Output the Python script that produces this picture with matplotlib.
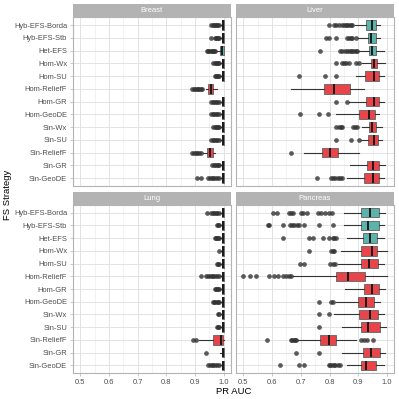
import matplotlib
matplotlib.use("Agg")
import matplotlib.pyplot as plt

plt.rcParams['font.family'] = ['Liberation Sans', 'DejaVu Sans']

# estrategias de seleccion (de arriba hacia abajo)
estrategias = ['Hyb-EFS-Borda', 'Hyb-EFS-Stb', 'Het-EFS', 'Hom-Wx', 'Hom-SU',
               'Hom-ReliefF', 'Hom-GR', 'Hom-GeoDE', 'Sin-Wx', 'Sin-SU',
               'Sin-ReliefF', 'Sin-GR', 'Sin-GeoDE']
ensemble = [True, True, True, False, False, False, False, False, False, False,
            False, False, False]

# ---- Breast ----
breast_lo  = [0.985, 0.987, 0.975, 0.987, 0.987, 0.938, 0.987, 0.987, 0.987, 0.987, 0.928, 0.987, 0.987]
breast_q1  = [0.992, 0.992, 0.987, 0.992, 0.992, 0.946, 0.992, 0.992, 0.992, 0.992, 0.943, 0.992, 0.992]
breast_med = [0.996, 0.996, 0.994, 0.996, 0.996, 0.954, 0.996, 0.996, 0.996, 0.996, 0.951, 0.996, 0.996]
breast_q3  = [0.999, 0.999, 1.000, 0.999, 0.999, 0.963, 0.999, 0.999, 0.999, 0.999, 0.961, 0.999, 0.999]
breast_hi  = [1.000, 1.000, 1.000, 1.000, 1.000, 0.975, 1.000, 1.000, 1.000, 1.000, 0.969, 1.000, 1.000]
breast_out = [
    [0.955, 0.962, 0.966, 0.970, 0.975, 0.978, 0.982],
    [0.954, 0.969, 0.973, 0.977, 0.980, 0.984],
    [0.940, 0.945, 0.950, 0.955, 0.958, 0.962, 0.966, 0.969],
    [0.963, 0.968, 0.972, 0.976, 0.980, 0.984],
    [0.969, 0.973, 0.977, 0.981, 0.984],
    [0.888, 0.895, 0.900, 0.905, 0.910, 0.915, 0.920, 0.925],
    [0.957, 0.962, 0.967, 0.972, 0.977, 0.982],
    [0.957, 0.962, 0.967, 0.972, 0.977, 0.982],
    [0.963, 0.968, 0.972, 0.976, 0.980, 0.984],
    [0.957, 0.962, 0.967, 0.972, 0.977, 0.982],
    [0.888, 0.895, 0.902, 0.908, 0.914, 0.920],
    [0.960, 0.965, 0.970, 0.975, 0.980, 0.984],
    [0.905, 0.922, 0.946, 0.952, 0.958, 0.964, 0.970, 0.976, 0.982],
]

# ---- Liver ----
liver_lo  = [0.888, 0.900, 0.902, 0.914, 0.893, 0.667, 0.868, 0.824, 0.914, 0.911, 0.710, 0.870, 0.862]
liver_q1  = [0.927, 0.934, 0.937, 0.944, 0.923, 0.782, 0.927, 0.904, 0.937, 0.933, 0.774, 0.930, 0.919]
liver_med = [0.948, 0.945, 0.948, 0.955, 0.955, 0.814, 0.955, 0.937, 0.948, 0.955, 0.801, 0.952, 0.950]
liver_q3  = [0.960, 0.960, 0.962, 0.966, 0.973, 0.871, 0.973, 0.957, 0.962, 0.969, 0.828, 0.971, 0.971]
liver_hi  = [0.974, 0.977, 0.988, 0.992, 0.988, 0.919, 0.988, 0.973, 0.982, 0.982, 0.902, 0.992, 0.988]
liver_out = [
    [0.797, 0.816, 0.824, 0.833, 0.845, 0.851, 0.856, 0.862, 0.868, 0.874, 0.879],
    [0.788, 0.799, 0.824, 0.862, 0.868, 0.874, 0.879, 0.893],
    [0.767, 0.836, 0.845, 0.854, 0.862, 0.868, 0.874, 0.879, 0.885, 0.891, 0.897],
    [0.824, 0.845, 0.851, 0.856, 0.868, 0.891, 0.902],
    [0.694, 0.785, 0.822],
    [],
    [0.824, 0.859],
    [0.696, 0.762, 0.793],
    [0.824, 0.833, 0.839, 0.845, 0.882, 0.889, 0.897],
    [0.824, 0.874, 0.902],
    [0.667],
    [],
    [0.756, 0.805, 0.813, 0.820, 0.828, 0.836, 0.843],
]

# ---- Lung ----
lung_lo  = [0.985, 0.987, 0.987, 0.990, 0.988, 0.987, 0.987, 0.987, 0.990, 0.988, 0.915, 0.988, 0.987]
lung_q1  = [0.992, 0.993, 0.992, 0.994, 0.993, 0.992, 0.992, 0.992, 0.994, 0.993, 0.963, 0.993, 0.992]
lung_med = [0.996, 0.997, 0.996, 0.997, 0.997, 0.996, 0.996, 0.996, 0.997, 0.997, 0.990, 0.997, 0.996]
lung_q3  = [0.999, 0.999, 0.999, 0.999, 0.999, 0.999, 0.999, 0.999, 0.999, 0.999, 0.997, 0.999, 0.999]
lung_hi  = [1.000, 1.000, 1.000, 1.000, 1.000, 1.000, 1.000, 1.000, 1.000, 1.000, 1.000, 1.000, 1.000]
lung_out = [
    [0.942, 0.957, 0.962, 0.967, 0.972, 0.977, 0.982],
    [0.975, 0.979, 0.983],
    [0.969, 0.973, 0.977, 0.981, 0.984],
    [0.984],
    [0.975, 0.979, 0.983],
    [0.922, 0.937, 0.945, 0.952, 0.958, 0.964, 0.970, 0.976, 0.982],
    [0.969, 0.973, 0.977, 0.981, 0.984],
    [0.961, 0.966, 0.971, 0.976, 0.980, 0.984],
    [0.981, 0.984],
    [0.975, 0.979, 0.983],
    [0.891, 0.903],
    [0.937],
    [0.946, 0.952, 0.958, 0.964, 0.970, 0.976, 0.982],
]

# ---- Pancreas ----
panc_lo  = [0.851, 0.851, 0.859, 0.839, 0.831, 0.673, 0.854, 0.824, 0.816, 0.843, 0.690, 0.843, 0.862]
panc_q1  = [0.908, 0.910, 0.917, 0.908, 0.911, 0.824, 0.919, 0.900, 0.902, 0.910, 0.767, 0.916, 0.910]
panc_med = [0.942, 0.934, 0.940, 0.946, 0.937, 0.864, 0.946, 0.925, 0.942, 0.934, 0.797, 0.945, 0.927]
panc_q3  = [0.971, 0.971, 0.966, 0.965, 0.969, 0.923, 0.971, 0.955, 0.969, 0.974, 0.824, 0.977, 0.962]
panc_hi  = [0.994, 0.988, 0.988, 0.999, 0.988, 0.999, 0.992, 0.977, 0.988, 0.996, 0.893, 0.994, 0.988]
panc_out = [
    [0.602, 0.616, 0.659, 0.667, 0.673, 0.702, 0.707, 0.721, 0.759, 0.771, 0.785, 0.797, 0.808],
    [0.585, 0.588, 0.639, 0.662, 0.670, 0.678, 0.686, 0.694, 0.713, 0.762, 0.811],
    [0.639, 0.728, 0.744, 0.779, 0.799, 0.811, 0.816, 0.822],
    [0.730, 0.805, 0.811, 0.816],
    [0.696, 0.713, 0.801, 0.811, 0.820],
    [0.501, 0.522, 0.545, 0.590, 0.607, 0.621, 0.639, 0.648, 0.659, 0.667],
    [],
    [0.765, 0.805, 0.811],
    [0.762, 0.797],
    [0.765],
    [0.584, 0.667, 0.671, 0.675, 0.679, 0.683, 0.908, 0.919, 0.931, 0.950],
    [0.682, 0.765],
    [0.627, 0.694, 0.710, 0.797, 0.801, 0.808, 0.815, 0.820, 0.830, 0.836],
]

paneles = [
    ('Breast', breast_lo, breast_q1, breast_med, breast_q3, breast_hi, breast_out),
    ('Liver', liver_lo, liver_q1, liver_med, liver_q3, liver_hi, liver_out),
    ('Lung', lung_lo, lung_q1, lung_med, lung_q3, lung_hi, lung_out),
    ('Pancreas', panc_lo, panc_q1, panc_med, panc_q3, panc_hi, panc_out),
]

ticks_x = [0.5, 0.6, 0.7, 0.8, 0.9, 1.0]
color_ens = '#5AB4AC'
color_sin = '#E8444A'
gris = '#B3B3B3'

W = H = 399.0
fig = plt.figure(figsize=(3.99, 3.99), dpi=100)

# posiciones de los paneles en pixeles (izq, der, arriba, abajo)
cajas = [(72.7, 231.0, 17.5, 185.7), (235.7, 394.3, 17.5, 185.7),
         (72.7, 231.0, 205.0, 373.0), (235.7, 394.3, 205.0, 373.0)]
alto_tira = 13.5

n = len(estrategias)
pos = list(range(n, 0, -1))

for i, (nombre, lo, q1, med, q3, hi, out) in enumerate(paneles):
    x0, x1, y0, y1 = cajas[i]
    ax = fig.add_axes([x0 / W, 1 - y1 / H, (x1 - x0) / W, (y1 - y0) / H])
    # tira con el nombre del panel
    tira = fig.add_axes([x0 / W, 1 - y0 / H, (x1 - x0) / W, alto_tira / H])
    tira.set_facecolor(gris)
    tira.set_xticks([])
    tira.set_yticks([])
    for s in tira.spines.values():
        s.set_visible(False)
    tira.text(0.5, 0.5, nombre, color='white', fontsize=5.5,
              ha='center', va='center', transform=tira.transAxes)

    stats = []
    for j in range(n):
        stats.append({'whislo': lo[j], 'q1': q1[j], 'med': med[j], 'q3': q3[j],
                      'whishi': hi[j], 'fliers': out[j]})
    bp = ax.bxp(stats, positions=pos, vert=False, widths=0.75,
                patch_artist=True, showcaps=False,
                boxprops=dict(edgecolor='#6E6E6E', linewidth=0.7),
                medianprops=dict(color='#1A1A1A', linewidth=1.4),
                whiskerprops=dict(color='#333333', linewidth=0.8),
                flierprops=dict(marker='o', markersize=3.4,
                                markerfacecolor='#333333', markeredgecolor='none',
                                alpha=0.8))
    for j, caja in enumerate(bp['boxes']):
        caja.set_facecolor(color_ens if ensemble[j] else color_sin)

    ax.set_xlim(0.474, 1.025)
    ax.set_ylim(0.4, n + 0.6)
    ax.set_xticks(ticks_x)
    ax.set_xticks([0.55, 0.65, 0.75, 0.85, 0.95], minor=True)
    ax.set_yticks(pos)
    ax.grid(True, which='major', color='#DEDEDE', linewidth=0.6)
    ax.grid(True, which='minor', axis='x', color='#EBEBEB', linewidth=0.4)
    ax.set_axisbelow(True)
    for s in ax.spines.values():
        s.set_color(gris)
        s.set_linewidth(0.8)
    ax.tick_params(which='both', length=2, width=0.5, color=gris,
                   labelsize=5.4, labelcolor='#4D4D4D', pad=2)
    ax.tick_params(which='minor', length=0)
    if i in (0, 2):
        ax.set_yticklabels(estrategias)
    else:
        ax.set_yticklabels([])
        ax.tick_params(axis='y', length=0)
    if i in (2, 3):
        ax.set_xticklabels(['0.5', '0.6', '0.7', '0.8', '0.9', '1.0'])
    else:
        ax.set_xticklabels([])
        ax.tick_params(axis='x', length=0)

fig.text(233.5 / W, 1 - 392 / H, 'PR AUC', fontsize=6.8, ha='center', va='center')
fig.text(8 / W, 1 - 195 / H, 'FS Strategy', fontsize=6.8, ha='center', va='center',
         rotation=90)

fig.savefig('out.png', dpi=100)
